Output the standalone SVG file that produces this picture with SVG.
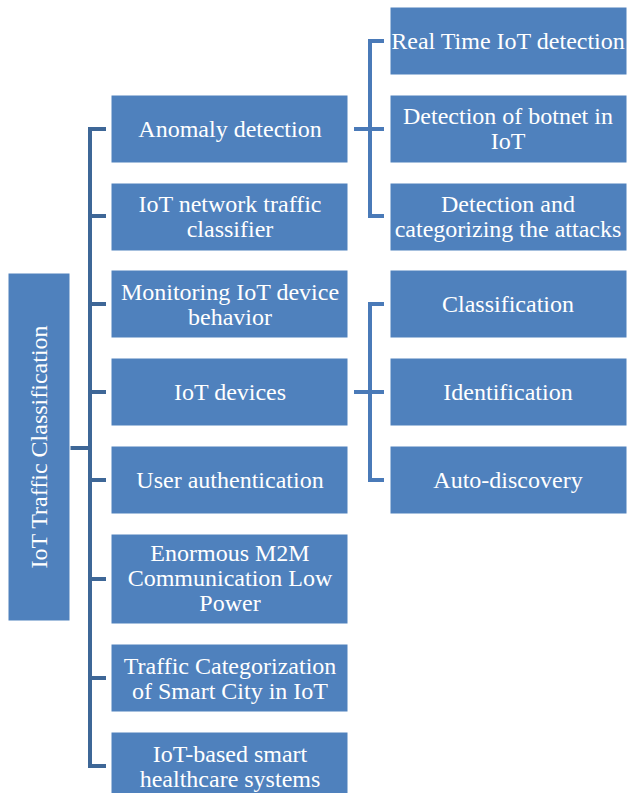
<svg xmlns="http://www.w3.org/2000/svg" width="627" height="793" viewBox="0 0 627 793">
<style>
.box{fill:#4f81bd;stroke:#ffffff;stroke-width:1}
.t{font-family:'Liberation Serif','Times New Roman',Times,'DejaVu Serif',serif;font-size:24px;fill:#ffffff;text-anchor:middle}
.c1{stroke:#3e6797;stroke-width:4;fill:none}
.c2{stroke:#4a7ab8;stroke-width:4;fill:none}
</style>
<rect width="627" height="793" fill="#ffffff"/>
<g id="connectors">
<path class="c1" d="M70 448H90M106 129H90V766H106M90 216H106M90 304H106M90 392H106M90 480H106M90 579H106M90 678H106"/>
<path class="c2" d="M354 129H384M384 41H370V216H384"/>
<path class="c2" d="M354 392H384M384 304H370V480H384"/>
</g>
<g id="root"><rect class="box" x="8" y="273" width="62" height="348"/>
<text class="t" transform="translate(47 447) rotate(-90)">IoT Traffic Classification</text></g>
<g id="n1"><rect class="box" x="111" y="95" width="237" height="68"/><text class="t" x="230" y="137">Anomaly detection</text></g>
<g id="n2"><rect class="box" x="111" y="183" width="237" height="68"/><text class="t" x="230" y="212">IoT network traffic</text><text class="t" x="230" y="237">classifier</text></g>
<g id="n3"><rect class="box" x="111" y="270" width="237" height="68"/><text class="t" x="230" y="300">Monitoring IoT device</text><text class="t" x="230" y="325">behavior</text></g>
<g id="n4"><rect class="box" x="111" y="358" width="237" height="68"/><text class="t" x="230" y="400">IoT devices</text></g>
<g id="n5"><rect class="box" x="111" y="446" width="237" height="68"/><text class="t" x="230" y="488">User authentication</text></g>
<g id="n6"><rect class="box" x="111" y="534" width="237" height="90"/><text class="t" x="230" y="561">Enormous M2M</text><text class="t" x="230" y="586">Communication Low</text><text class="t" x="230" y="611">Power</text></g>
<g id="n7"><rect class="box" x="111" y="644" width="237" height="68"/><text class="t" x="230" y="674">Traffic Categorization</text><text class="t" x="230" y="699">of Smart City in IoT</text></g>
<g id="n8"><rect class="box" x="111" y="732" width="237" height="68"/><text class="t" x="230" y="762">IoT-based smart</text><text class="t" x="230" y="787">healthcare systems</text></g>
<g id="r1"><rect class="box" x="390" y="7" width="237" height="68"/><text class="t" x="508" y="49">Real Time IoT detection</text></g>
<g id="r2"><rect class="box" x="390" y="95" width="237" height="68"/><text class="t" x="508" y="124">Detection of botnet in</text><text class="t" x="508" y="149">IoT</text></g>
<g id="r3"><rect class="box" x="390" y="183" width="237" height="68"/><text class="t" x="508" y="212">Detection and</text><text class="t" x="508" y="237">categorizing the attacks</text></g>
<g id="r4"><rect class="box" x="390" y="270" width="237" height="68"/><text class="t" x="508" y="312">Classification</text></g>
<g id="r5"><rect class="box" x="390" y="358" width="237" height="68"/><text class="t" x="508" y="400">Identification</text></g>
<g id="r6"><rect class="box" x="390" y="446" width="237" height="68"/><text class="t" x="508" y="488">Auto-discovery</text></g>
</svg>
